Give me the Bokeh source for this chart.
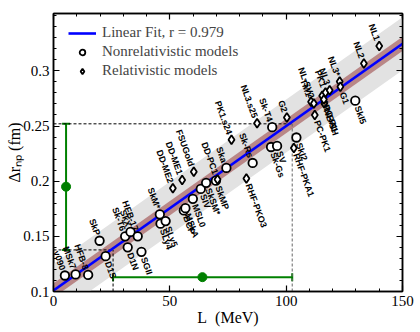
from bokeh.plotting import figure
from bokeh.models import (Range1d, FixedTicker, LinearAxis, ColumnDataSource,
                          Legend, LegendItem, Whisker, TeeHead, CustomJSTickFormatter)
from bokeh.core.properties import value
from bokeh.embed import file_html
from bokeh.resources import INLINE
import math

# ---------------- data ----------------
# Nonrelativistic models (circles)
nr_names = ["v090", "MSk7", "HFB-8", "SkP", "D1S", "Sk-T6", "SkX", "HFB-17", "D1N", "SGII",
            "SkM*", "SLy4", "SLy5", "BCP", "MSkA", "MSL0", "SIV", "SkSM*", "SkMP", "Ska",
            "Sk-Rs", "Sk-Gs", "SV", "Sk-T4", "SkI2", "SkI5"]
nr_L = [4.9, 9.5, 14.9, 19.8, 22.4, 30.8, 33.1, 36.2, 31.9, 37.8,
        45.7, 46.0, 48.2, 56.0, 56.7, 59.9, 63.3, 65.6, 69.8, 74.3,
        85.6, 93.5, 96.1, 94.0, 104.4, 129.7]
nr_dr = [0.1145, 0.1155, 0.115, 0.146, 0.132, 0.150, 0.154, 0.150, 0.140, 0.136,
         0.170, 0.1615, 0.1638, 0.1735, 0.1755, 0.184, 0.193, 0.1985, 0.2005, 0.212,
         0.2165, 0.231, 0.232, 0.249, 0.2396, 0.273]

# Relativistic models (diamonds)
r_names = ["DD-ME2", "DD-ME1", "FSUGold", "DD-PC1", "PK1.s24", "RHF-PKO3", "NL3.s25", "G2",
           "RHF-PKA1", "TM1", "NL-SV2", "PC-PK1", "NL-SH", "NL-RA1", "PC-F1", "PK1", "NL3",
           "NL3*", "G1", "NL2", "NL1"]
r_L = [51.3, 55.3, 60.3, 70.5, 76.5, 82.9, 87.5, 100.3,
       103.3, 110.7, 111.9, 112.3, 116.4, 115.5, 116.2, 116.9, 118.7,
       123.0, 123.3, 133.4, 140.0]
r_dr = [0.1935, 0.201, 0.2085, 0.2015, 0.2375, 0.2025, 0.2525, 0.2577,
        0.230, 0.272, 0.2704, 0.260, 0.2704, 0.2775, 0.274, 0.2804, 0.2825,
        0.2903, 0.2855, 0.3066, 0.3226]

# models whose name is written below-right of the marker
names_below = ["D1S", "D1N", "SGII", "SLy4", "SLy5", "BCP", "MSkA", "MSL0", "SIV", "SkSM*",
               "SkMP", "Sk-Gs", "SV", "SkI2", "SkI5", "RHF-PKO3", "RHF-PKA1", "PC-PK1",
               "NL-SH", "NL-RA1", "PC-F1", "G1"]

# linear fit  dr = a + b L
fit_a = 0.101
fit_b = 0.00149
fit_r = 0.979
band_inner = 0.0065
band_outer = 0.024
fit_L = [0, 150]

# constraints (green)
L_best, L_lo, L_hi, L_at = 64.0, 25.6, 102.6, 0.113
dr_best, dr_lo, dr_hi, dr_at = 0.195, 0.1377, 0.252, 5.4

# ticks
x_ticks = [0, 50, 100, 150]
x_minor = [10 * i for i in range(16)]
y_ticks = [0.1, 0.15, 0.2, 0.25, 0.3]
y_minor = [round(0.1 + 0.01 * i, 2) for i in range(26)]

# ---------------- figure ----------------
p = figure(width=420, height=332, output_backend="svg", toolbar_location=None,
           x_range=Range1d(0, 150), y_range=Range1d(0.1, 0.352),
           min_border_left=53, min_border_right=18, min_border_top=13, min_border_bottom=41)
p.background_fill_color = "white"
p.outline_line_color = "black"
p.outline_line_width = 1.5
p.grid.visible = False

serif = "Liberation Serif"

def style_axis(ax):
    ax.axis_line_color = "black"
    ax.axis_line_width = 1.5
    ax.major_tick_in = 6
    ax.major_tick_out = 0
    ax.minor_tick_in = 3
    ax.minor_tick_out = 0
    ax.major_tick_line_width = 1.2
    ax.minor_tick_line_width = 1
    ax.major_label_text_font = serif
    ax.major_label_text_font_size = "15px"
    ax.major_label_text_color = "black"
    ax.major_label_standoff = 4
    ax.axis_label_text_font = serif
    ax.axis_label_text_font_size = "16px"
    ax.axis_label_text_font_style = "normal"
    ax.axis_label_text_color = "black"

bottom = p.below[0]
left = p.left[0]
bottom.ticker = FixedTicker(ticks=x_ticks, minor_ticks=x_minor)
left.ticker = FixedTicker(ticks=y_ticks, minor_ticks=y_minor)
style_axis(bottom)
style_axis(left)
left.major_label_overrides = {0.1: "0.1", 0.15: "0.15", 0.2: "0.2", 0.25: "0.25", 0.3: "0.3"}

top = LinearAxis(ticker=FixedTicker(ticks=x_ticks, minor_ticks=x_minor))
right = LinearAxis(ticker=FixedTicker(ticks=y_ticks, minor_ticks=y_minor))
for ax in (top, right):
    style_axis(ax)
    ax.major_label_standoff = 0
    ax.axis_label = None
    ax.formatter = CustomJSTickFormatter(code="return ''")
p.add_layout(top, "above")
p.add_layout(right, "right")

# axis titles
bottom.axis_label = "L\u2002(MeV)"
left.axis_label = "\u0394r\u2099\u209a (fm)"
bottom.axis_label_standoff = 0
left.axis_label_standoff = -3

# bands
fit_y = [fit_a + fit_b * L for L in fit_L]
p.varea(x=fit_L, y1=[y - band_outer for y in fit_y], y2=[y + band_outer for y in fit_y],
        fill_color="#e2e2e2")
p.varea(x=fit_L, y1=[y - band_inner for y in fit_y], y2=[y + band_inner for y in fit_y],
        fill_color="#b98787")

# dashed guides
p.line([0, L_hi], [dr_hi, dr_hi], line_color="black", line_dash="3 2", line_width=1)
p.line([L_hi, L_hi], [0.1, dr_hi], line_color="#666666", line_dash="3 2", line_width=1)
p.line([0, L_lo], [dr_lo, dr_lo], line_color="black", line_dash="3 2", line_width=1)
p.line([L_lo, L_lo], [0.1, dr_lo], line_color="black", line_dash="3 2", line_width=1)

# green error bars
green = "#008000"
def tee():
    return TeeHead(size=8, line_color=green, line_width=2)
wh = Whisker(source=ColumnDataSource(dict(base=[L_at], lower=[L_lo], upper=[L_hi])),
             base="base", lower="lower", upper="upper", dimension="width",
             line_color=green, line_width=2, lower_head=tee(), upper_head=tee())
wv = Whisker(source=ColumnDataSource(dict(base=[dr_at], lower=[dr_lo], upper=[dr_hi])),
             base="base", lower="lower", upper="upper", dimension="height",
             line_color=green, line_width=2, lower_head=tee(), upper_head=tee())
p.add_layout(wh)
p.add_layout(wv)
p.scatter([L_best, dr_at], [L_at, dr_best], size=9, color=green)

# fit line
fit_line = p.line(fit_L, fit_y, line_color="#0000ff", line_width=2.6)

# markers
src_nr = ColumnDataSource(dict(L=nr_L, dr=nr_dr))
src_r = ColumnDataSource(dict(L=r_L, dr=r_dr))
c_r = p.scatter("L", "dr", source=src_nr, marker="circle", size=8.5,
                line_color="black", line_width=1.8, fill_color="white")
d_r = p.scatter("L", "dr", source=src_r, marker="diamond", size=9,
                line_color="black", line_width=1.8, fill_color="white")

# rotated model names
ang = -math.radians(70)
ux, uy = math.cos(math.radians(70)), math.sin(math.radians(70))
off = 6
ab = dict(x=[], y=[], t=[])
bl = dict(x=[], y=[], t=[])
for n, L, d in zip(nr_names + r_names, nr_L + r_L, nr_dr + r_dr):
    tgt = bl if n in names_below else ab
    tgt["x"].append(L); tgt["y"].append(d); tgt["t"].append(n)
lab_font = dict(text_font=value("Liberation Sans"), text_font_style="bold",
                text_font_size="9px", text_color="black", angle=ang, text_baseline="middle")
p.text("x", "y", text="t", source=ColumnDataSource(ab), text_align="right",
       x_offset=-off * ux, y_offset=-off * uy, **lab_font)
p.text("x", "y", text="t", source=ColumnDataSource(bl), text_align="left",
       x_offset=off * ux, y_offset=off * uy, **lab_font)

# legend
legend = Legend(items=[
    LegendItem(label="Linear Fit, r = %.3f" % fit_r, renderers=[fit_line]),
    LegendItem(label="Nonrelativistic models", renderers=[c_r]),
    LegendItem(label="Relativistic models", renderers=[d_r]),
], location=(15, 212), border_line_color=None, background_fill_alpha=0,
    padding=0, margin=0, spacing=2, glyph_width=28, glyph_height=14, label_height=14,
    label_standoff=6, label_text_font=serif, label_text_font_size="15px")
p.add_layout(legend)

open("out.html", "w").write(file_html(p, INLINE))
